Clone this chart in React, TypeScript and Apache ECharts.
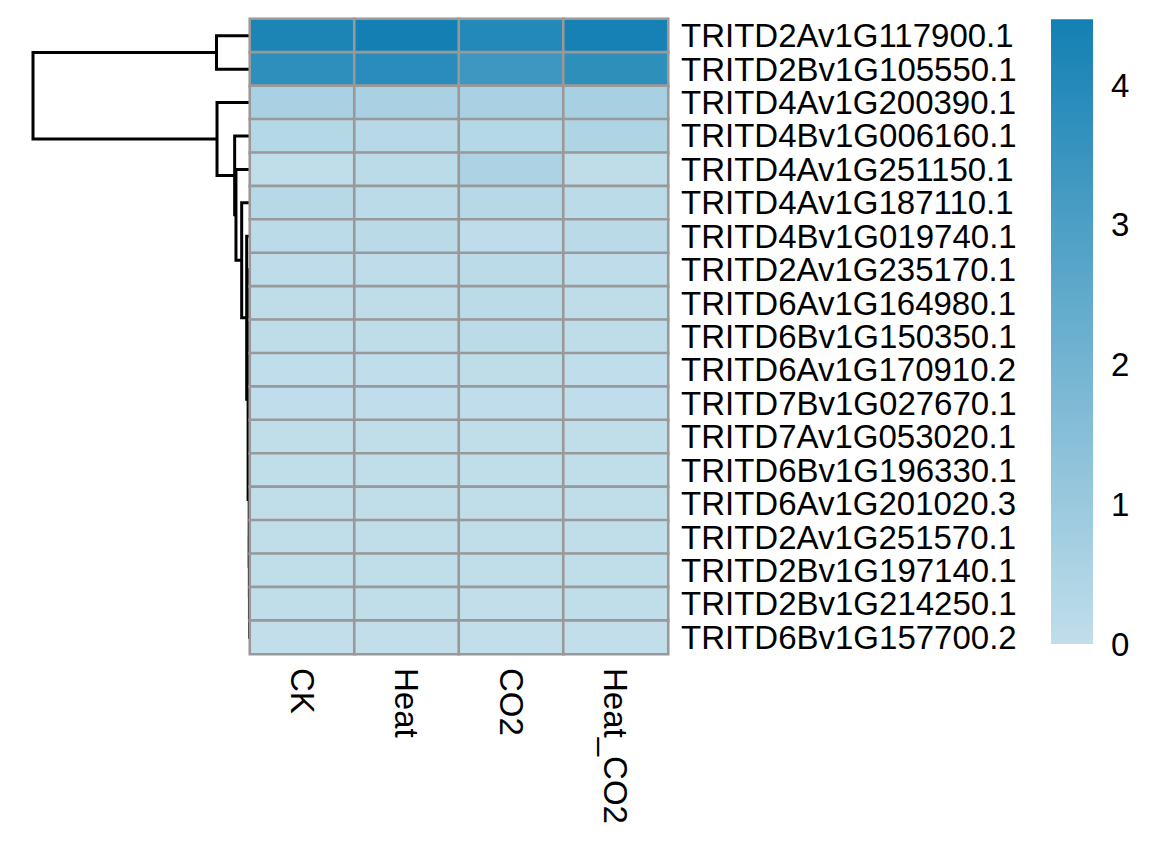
import React, { useEffect, useRef } from "react";
import * as echarts from "echarts";

const rowLabels = [
  "TRITD2Av1G117900.1", "TRITD2Bv1G105550.1", "TRITD4Av1G200390.1", "TRITD4Bv1G006160.1",
  "TRITD4Av1G251150.1", "TRITD4Av1G187110.1", "TRITD4Bv1G019740.1", "TRITD2Av1G235170.1",
  "TRITD6Av1G164980.1", "TRITD6Bv1G150350.1", "TRITD6Av1G170910.2", "TRITD7Bv1G027670.1",
  "TRITD7Av1G053020.1", "TRITD6Bv1G196330.1", "TRITD6Av1G201020.3", "TRITD2Av1G251570.1",
  "TRITD2Bv1G197140.1", "TRITD2Bv1G214250.1", "TRITD6Bv1G157700.2",
];
const colLabels = ["CK", "Heat", "CO2", "Heat_CO2"];

const valCK = [4.24, 3.76, 0.6, 0.3, 0.03, 0.25, 0.14, 0.08, 0.06, 0.05, 0.04, 0.04, 0.03, 0.03, 0.03, 0.02, 0.02, 0.02, 0.01];
const valHeat = [4.47, 3.88, 0.6, 0.27, 0.15, 0.15, 0.18, 0.08, 0.06, 0.05, 0.04, 0.04, 0.03, 0.03, 0.03, 0.02, 0.02, 0.02, 0.01];
const valCO2 = [4.06, 3.4, 0.6, 0.3, 0.55, 0.28, 0.08, 0.15, 0.14, 0.14, 0.05, 0.04, 0.03, 0.03, 0.03, 0.02, 0.02, 0.01, 0];
const valHeatCO2 = [4.4, 3.78, 0.66, 0.45, 0.05, 0.12, 0.18, 0.08, 0.05, 0.05, 0.04, 0.04, 0.03, 0.03, 0.03, 0.02, 0.02, 0.02, 0.01];

const colorTicks = [0, 1, 2, 3, 4];
const valueMin = 0;
const valueMax = 4.47;

// hclust-style merges: negative = leaf (row -v-1), positive = earlier merge (1-based)
const merges: [number, number, number][] = [
  [-18, -19, 0.01],
  [-17, 1, 0.015],
  [-16, 2, 0.02],
  [-14, -15, 0.01],
  [-13, 4, 0.015],
  [-12, 5, 0.02],
  [6, 3, 0.04],
  [-10, -11, 0.01],
  [-9, 8, 0.02],
  [-8, 9, 0.03],
  [10, 7, 0.15],
  [-7, 11, 0.29],
  [-6, 12, 0.79],
  [-5, 13, 1.36],
  [-4, 14, 1.49],
  [-3, 15, 3.25],
  [-1, -2, 3.3],
  [17, 16, 21.6],
];

const LOW = "#c1deea";
const HIGH = "#1380b3";
const FONT = "Liberation Sans";

export default function App() {
  const ref = useRef<HTMLDivElement>(null);
  useEffect(() => {
    if (!ref.current) return;
    const chart = echarts.init(ref.current, null, { renderer: "svg" });

    const cols = [valCK, valHeat, valCO2, valHeatCO2];
    const heatData: number[][] = [];
    cols.forEach((arr, c) => arr.forEach((v, r) => heatData.push([c, r, v])));

    const nodePos: { y: number; h: number }[] = [];
    const pos = (v: number) => (v < 0 ? { y: -v - 1 + 0.5, h: 0 } : nodePos[v - 1]);
    const segs: { coords: number[][] }[] = [];
    merges.forEach(([a, b, h]) => {
      const pa = pos(a);
      const pb = pos(b);
      segs.push({ coords: [[pa.h, pa.y], [h, pa.y], [h, pb.y], [pb.h, pb.y]] });
      nodePos.push({ y: (pa.y + pb.y) / 2, h });
    });
    const rootH = merges[merges.length - 1][2];

    const gridTop = 19;
    const gridH = 635;
    const unitPx = 139.75;
    const cbTop = 644 - valueMax * unitPx;

    chart.setOption({
      animation: false,
      textStyle: { fontFamily: FONT },
      grid: [
        { left: 33, top: gridTop, width: 216.6, height: gridH },
        { left: 250, top: gridTop, width: 418, height: gridH },
        { left: 1051, top: cbTop, width: 42, height: 644 - cbTop },
      ],
      xAxis: [
        { gridIndex: 0, type: "value", inverse: true, min: 0, max: rootH, show: false },
        {
          gridIndex: 1, type: "category", data: colLabels, position: "bottom",
          axisLine: { show: false }, axisTick: { show: false }, splitLine: { show: false },
          axisLabel: { interval: 0, rotate: -90, margin: 14, fontSize: 33, color: "#000", fontFamily: FONT },
        },
        { gridIndex: 2, type: "category", data: ["cb"], show: false },
      ],
      yAxis: [
        { gridIndex: 0, type: "value", inverse: true, min: 0, max: rowLabels.length, show: false },
        {
          gridIndex: 1, type: "category", data: rowLabels, inverse: true, position: "right",
          axisLine: { show: false }, axisTick: { show: false }, splitLine: { show: false },
          axisLabel: { interval: 0, margin: 13, fontSize: 33, color: "#000", fontFamily: FONT },
        },
        {
          gridIndex: 2, type: "value", min: valueMin, max: valueMax, interval: 1, position: "right",
          axisLine: { show: false }, axisTick: { show: false }, splitLine: { show: false },
          axisLabel: {
            margin: 18, fontSize: 33, color: "#000", fontFamily: FONT, showMaxLabel: false,
            formatter: (v: number) => (colorTicks.includes(v) ? String(v) : ""),
          },
        },
      ],
      visualMap: {
        show: false, type: "continuous", seriesIndex: 1, dimension: 2,
        min: valueMin, max: valueMax, inRange: { color: [LOW, HIGH] },
      },
      series: [
        {
          type: "lines", coordinateSystem: "cartesian2d", xAxisIndex: 0, yAxisIndex: 0,
          polyline: true, silent: true, data: segs,
          lineStyle: { color: "#000", width: 3, opacity: 1 },
        },
        {
          type: "heatmap", xAxisIndex: 1, yAxisIndex: 1, data: heatData,
          itemStyle: { borderColor: "#999999", borderWidth: 2.6 },
          emphasis: { disabled: true },
        },
        {
          type: "bar", xAxisIndex: 2, yAxisIndex: 2, data: [valueMax], barWidth: "100%",
          silent: true,
          itemStyle: {
            color: new echarts.graphic.LinearGradient(0, 0, 0, 1, [
              { offset: 0, color: HIGH },
              { offset: 1, color: LOW },
            ]),
          },
        },
      ],
    });
    return () => chart.dispose();
  }, []);
  return (
    <div
      ref={ref}
      style={{ position: "fixed", left: 0, top: 0, width: 1170, height: 853, background: "#fff" }}
    />
  );
}
